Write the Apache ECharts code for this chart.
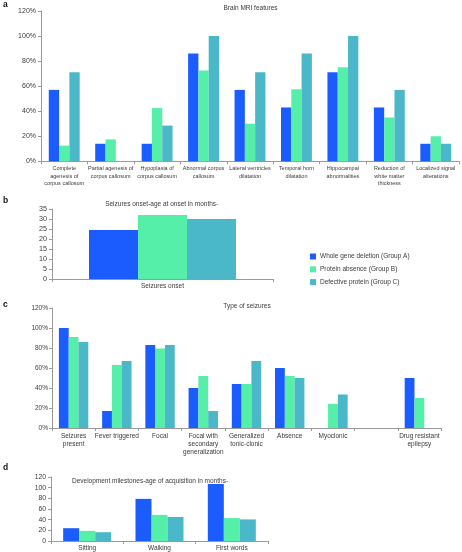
<!DOCTYPE html>
<html>
<head>
<meta charset="utf-8">
<script src="https://cdn.jsdelivr.net/npm/echarts@6/dist/echarts.min.js"></script>
<style>html,body{margin:0;padding:0;background:#fff}#c{width:462px;height:552px}</style>
</head>
<body>
<div id="c"></div>
<script>
// ---- data ----
var groupNames = ['Whole gene deletion (Group A)', 'Protein absence (Group B)', 'Defective protein (Group C)'];

var mriCategories = ['Complete\nagenesis of\ncorpus callosum', 'Partial agenesis of\ncorpus callosum', 'Hypoplasia of\ncorpus callosum', 'Abnormal corpus\ncallosum', 'Lateral ventricles\ndilatation', 'Temporal horn\ndilatation', 'Hippocampal\nabnormalities', 'Reduction of\nwhite matter\nthickness', 'Localized signal\nalterations'];
var mriA = [57, 14, 14, 86, 57, 43, 71, 43, 14];
var mriB = [12.5, 17.5, 42.5, 72.5, 30, 57.5, 75, 35, 20];
var mriC = [71, 0, 28.5, 100, 71, 86, 100, 57, 14];

var onsetCategories = ['Seizures onset'];
var onsetA = [24.5];
var onsetB = [32];
var onsetC = [30];

var seizCategories = ['Seizures\npresent', 'Fever triggered', 'Focal', 'Focal with\nsecondary\ngeneralization', 'Generalized\ntonic-clonic', 'Absence', 'Myoclonic', '', 'Drug resistant\nepilepsy'];
var seizA = [100, 17, 83, 40, 44, 60, 0, 0, 50];
var seizB = [91, 63, 79.5, 52, 44, 52, 24, 0, 30];
var seizC = [86, 67, 83, 17, 67, 50, 33.5, 0, 0];

var devCategories = ['Sitting', 'Walking', 'First words'];
var devA = [24, 79, 107];
var devB = [19, 49, 43];
var devC = [16.5, 45, 40.5];

var titles = ['Brain MRI features', 'Seizures onset-age at onset in months-', 'Type of seizures', 'Development milestones-age of acquisition in months-'];
var panelLetters = ['a', 'b', 'c', 'd'];

// ---- chart ----
var colors = ['#1B5CFF', '#55EFA9', '#4AB8C8'];
var FONT = '"Liberation Sans", Arial, Helvetica, sans-serif';
var axisColor = '#9a9a9a';
var textColor = '#3a3a3a';

var grids = [
  {left: 41, top: 11, width: 418, height: 150.3},
  {left: 52, top: 209, width: 221, height: 70},
  {left: 52, top: 308, width: 389, height: 120},
  {left: 51, top: 477, width: 217, height: 65}
];

function xAx(idx, data, fs, lh, margin) {
  return {
    type: 'category', gridIndex: idx, data: data,
    axisLine: {lineStyle: {color: axisColor, width: 1}},
    axisTick: {show: true, length: 3, lineStyle: {color: axisColor}},
    axisLabel: {interval: 0, fontSize: fs, lineHeight: lh, color: textColor, fontFamily: FONT, margin: margin}
  };
}
function yAx(idx, max, interval, fmt, fs, margin) {
  return {
    type: 'value', gridIndex: idx, min: 0, max: max, interval: interval,
    axisLine: {show: true, lineStyle: {color: axisColor, width: 1}},
    axisTick: {show: true, length: 3, lineStyle: {color: axisColor}},
    splitLine: {show: false},
    axisLabel: {formatter: fmt, fontSize: fs, color: textColor, fontFamily: FONT, margin: margin}
  };
}

var pct = function (v) { return v + '%'; };

var xAxes = [
  xAx(0, mriCategories, 5.5, 7.3, 4),
  xAx(1, onsetCategories, 6.5, 8, 3),
  xAx(2, seizCategories, 6.5, 8.2, 4),
  xAx(3, devCategories, 6.5, 8, 3)
];
var yAxes = [
  yAx(0, 120, 20, pct, 7, 5),
  yAx(1, 35, 5, null, 7.2, 5),
  yAx(2, 120, 20, pct, 6.5, 4),
  yAx(3, 120, 20, null, 6.8, 5)
];

var panelData = [
  [mriA, mriB, mriC],
  [onsetA, onsetB, onsetC],
  [seizA, seizB, seizC],
  [devA, devB, devC]
];
var barWidths = [10.3, 49, 9.8, 16];

var series = [];
for (var p = 0; p < 4; p++) {
  for (var g = 0; g < 3; g++) {
    series.push({
      type: 'bar', name: groupNames[g], xAxisIndex: p, yAxisIndex: p,
      data: panelData[p][g], barWidth: barWidths[p], barGap: '0%',
      itemStyle: {color: colors[g]}, animation: false
    });
  }
}

var titlePos = [[250.5, 8], [161.7, 204], [247, 306.7], [150, 481]];
var letterPos = [[3, 5], [3, 201], [3, 305], [3, 468]];
var graphics = [];
for (var i = 0; i < 4; i++) {
  graphics.push({type: 'text', x: titlePos[i][0], y: titlePos[i][1],
    style: {text: titles[i], fontSize: 6.5, fontFamily: FONT, fill: textColor, align: 'center', verticalAlign: 'middle'}});
  graphics.push({type: 'text', x: letterPos[i][0], y: letterPos[i][1],
    style: {text: panelLetters[i], fontSize: 8.5, fontWeight: 'bold', fontFamily: FONT, fill: '#111', align: 'left', verticalAlign: 'middle'}});
}

var chart = echarts.init(document.getElementById('c'), null, {renderer: 'canvas'});
chart.setOption({
  animation: false,
  backgroundColor: '#fff',
  grid: grids,
  xAxis: xAxes,
  yAxis: yAxes,
  series: series,
  legend: {
    data: groupNames, orient: 'vertical', left: 305, top: 248,
    itemWidth: 6, itemHeight: 6, itemGap: 5.8, icon: 'rect',
    textStyle: {fontSize: 6.5, color: textColor, fontFamily: FONT, padding: [0, 0, 0, -1]},
    selectedMode: false
  },
  graphic: graphics
});
</script>
</body>
</html>
